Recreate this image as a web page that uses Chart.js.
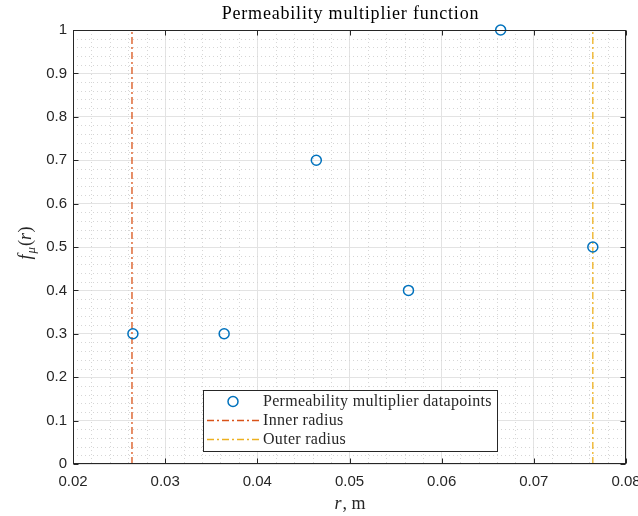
<!DOCTYPE html>
<html>
<head>
<meta charset="utf-8">
<script src="https://cdn.jsdelivr.net/npm/chart.js@4.4.1/dist/chart.umd.min.js"></script>
<style>
  html, body { margin: 0; padding: 0; background: #ffffff; }
  #wrap { width: 638px; height: 516px; overflow: hidden; }
</style>
</head>
<body>
<div id="wrap"><canvas id="permChart" width="638" height="516"></canvas></div>
<script>
// radius positions (m) and multiplier values
const rValues = [0.0265, 0.0364, 0.0464, 0.0564, 0.0664, 0.0764];
const fValues = [0.3, 0.3, 0.7, 0.4, 1.0, 0.5];
const innerRadius = 0.0264;
const outerRadius = 0.0764;

const xTicks = [0.02, 0.03, 0.04, 0.05, 0.06, 0.07, 0.08];
const xTickLabels = ['0.02', '0.03', '0.04', '0.05', '0.06', '0.07', '0.08'];
const yTicks = [0, 0.1, 0.2, 0.3, 0.4, 0.5, 0.6, 0.7, 0.8, 0.9, 1];
const yTickLabels = ['0', '0.1', '0.2', '0.3', '0.4', '0.5', '0.6', '0.7', '0.8', '0.9', '1'];

const chartTitle = 'Permeability multiplier function';
const seriesLabels = ['Permeability multiplier datapoints', 'Inner radius', 'Outer radius'];

const BLUE = '#0072BD';
const ORANGE = '#D95319';
const YELLOW = '#EDB120';
const AXIS = '#262626';
const SERIF = '"Liberation Serif", "Times New Roman", serif';
const SANS = '"Liberation Sans", Arial, sans-serif';
const DASHDOT = [7, 3, 2, 3];

// dotted minor grid: every 0.002 in r, every 0.02 in f
const minorGrid = {
  id: 'minorGrid',
  beforeDatasetsDraw(chart) {
    const { ctx, chartArea: a, scales: { x, y } } = chart;
    ctx.save();
    ctx.strokeStyle = '#d6d6d6';
    ctx.lineWidth = 1;
    ctx.setLineDash([1, 3]);
    for (let i = 0; i <= 30; i++) {
      if (i % 5 === 0) continue;
      const px = Math.round(x.getPixelForValue(0.02 + i * 0.002)) + 0.5;
      ctx.beginPath(); ctx.moveTo(px, a.top); ctx.lineTo(px, a.bottom); ctx.stroke();
    }
    for (let i = 0; i <= 50; i++) {
      if (i % 5 === 0) continue;
      const py = Math.round(y.getPixelForValue(i * 0.02)) + 0.5;
      ctx.beginPath(); ctx.moveTo(a.left, py); ctx.lineTo(a.right, py); ctx.stroke();
    }
    ctx.restore();
  }
};

// axes box with inward ticks on all four sides
const axesBox = {
  id: 'axesBox',
  afterDatasetsDraw(chart) {
    const { ctx, chartArea: a, scales: { x, y } } = chart;
    const L = Math.round(a.left) + 0.5, R = Math.round(a.right) - 0.5;
    const T = Math.round(a.top) + 0.5, B = Math.round(a.bottom) - 0.5;
    ctx.save();
    ctx.strokeStyle = AXIS;
    ctx.lineWidth = 1;
    ctx.strokeRect(L, T, R - L, B - T);
    const tl = 5;
    ctx.beginPath();
    xTicks.forEach(v => {
      const px = Math.round(x.getPixelForValue(v)) + 0.5;
      ctx.moveTo(px, B); ctx.lineTo(px, B - tl);
      ctx.moveTo(px, T); ctx.lineTo(px, T + tl);
    });
    yTicks.forEach(v => {
      const py = Math.round(y.getPixelForValue(v)) + 0.5;
      ctx.moveTo(L, py); ctx.lineTo(L + tl, py);
      ctx.moveTo(R, py); ctx.lineTo(R - tl, py);
    });
    ctx.stroke();
    ctx.restore();
  }
};

// title and axis titles (italic symbols need mixed fonts)
const titles = {
  id: 'titles',
  afterDraw(chart) {
    const { ctx, chartArea: a } = chart;
    const cx = (a.left + a.right) / 2;
    ctx.save();
    ctx.textBaseline = 'alphabetic';

    ctx.fillStyle = '#000000';
    ctx.font = '18px ' + SERIF;
    ctx.letterSpacing = '0.8px';
    ctx.textAlign = 'center';
    ctx.fillText(chartTitle, cx + 1, 19);
    ctx.textAlign = 'left';
    ctx.letterSpacing = '0px';

    // x title: r, m
    ctx.fillStyle = AXIS;
    ctx.font = 'italic 18px ' + SERIF;
    const wr = ctx.measureText('r').width;
    ctx.font = '18px ' + SERIF;
    const wRest = ctx.measureText(', m').width;
    const sx = cx - (wr + wRest) / 2;
    ctx.font = 'italic 18px ' + SERIF;
    ctx.fillText('r', sx, 509);
    ctx.font = '18px ' + SERIF;
    ctx.fillText(', m', sx + wr + 1, 509);

    // y title: f_mu(r), rotated
    ctx.translate(31, (a.top + a.bottom) / 2 - 4);
    ctx.rotate(-Math.PI / 2);
    const parts = [
      { t: 'f', f: 'italic 18px ' + SERIF, dy: 0, gap: 1 },
      { t: 'μ', f: 'italic 13px ' + SERIF, dy: 4, gap: 1 },
      { t: '(', f: '18px ' + SERIF, dy: 0, gap: 0 },
      { t: 'r', f: 'italic 18px ' + SERIF, dy: 0, gap: 0.5 },
      { t: ')', f: '18px ' + SERIF, dy: 0, gap: 0 }
    ];
    let total = 0;
    parts.forEach(p => { ctx.font = p.f; p.w = ctx.measureText(p.t).width; total += p.w + p.gap; });
    let px = -total / 2;
    parts.forEach(p => { ctx.font = p.f; ctx.fillText(p.t, px, p.dy); px += p.w + p.gap; });
    ctx.restore();
  }
};

// legend box inside the axes, lower middle
const legendBox = {
  id: 'legendBox',
  afterDraw(chart) {
    const { ctx } = chart;
    const box = { x: 203, y: 390, w: 294, h: 61 };
    const rowY = [401, 420, 439];
    ctx.save();
    ctx.fillStyle = '#ffffff';
    ctx.fillRect(box.x, box.y, box.w, box.h);
    ctx.strokeStyle = AXIS;
    ctx.lineWidth = 1;
    ctx.strokeRect(box.x + 0.5, box.y + 0.5, box.w, box.h);
    chart.data.datasets.forEach((ds, i) => {
      const yy = rowY[i] + 0.5;
      ctx.beginPath();
      ctx.strokeStyle = ds.borderColor;
      ctx.lineWidth = ds.borderWidth;
      if (i === 0) {
        ctx.arc(233, yy, ds.pointRadius, 0, Math.PI * 2);
      } else {
        ctx.setLineDash(ds.borderDash);
        ctx.moveTo(207, yy); ctx.lineTo(259, yy);
      }
      ctx.stroke();
      ctx.setLineDash([]);
      ctx.fillStyle = AXIS;
      ctx.font = '16px ' + SERIF;
      ctx.letterSpacing = '0.3px';
      ctx.textBaseline = 'middle';
      ctx.fillText(ds.label, 263, rowY[i] + 1);
    });
    ctx.restore();
  }
};

const ctx = document.getElementById('permChart').getContext('2d');
new Chart(ctx, {
  type: 'scatter',
  data: {
    datasets: [
      {
        label: seriesLabels[0],
        data: rValues.map((r, i) => ({ x: r, y: fValues[i] })),
        pointStyle: 'circle',
        pointRadius: 5,
        pointHoverRadius: 5,
        borderColor: BLUE,
        backgroundColor: 'rgba(0,0,0,0)',
        borderWidth: 1.5,
        showLine: false
      },
      {
        label: seriesLabels[1],
        data: [{ x: innerRadius, y: 0 }, { x: innerRadius, y: 1 }],
        showLine: true,
        borderColor: ORANGE,
        borderWidth: 1.3,
        borderDash: DASHDOT,
        pointRadius: 0
      },
      {
        label: seriesLabels[2],
        data: [{ x: outerRadius, y: 0 }, { x: outerRadius, y: 1 }],
        showLine: true,
        borderColor: YELLOW,
        borderWidth: 1.3,
        borderDash: DASHDOT,
        pointRadius: 0
      }
    ]
  },
  options: {
    responsive: false,
    animation: false,
    clip: false,
    layout: { padding: { left: 0, right: 12, top: 30, bottom: 0 } },
    plugins: {
      legend: { display: false },
      tooltip: { enabled: false },
      title: { display: false }
    },
    scales: {
      x: {
        type: 'linear',
        min: 0.02,
        max: 0.08,
        afterBuildTicks: s => { s.ticks = xTicks.map(v => ({ value: v })); },
        afterFit: s => { s.height = 52; s.paddingLeft = 0; s.paddingRight = 0; },
        border: { display: false },
        grid: { color: '#e3e3e3', drawTicks: false },
        ticks: {
          color: AXIS,
          font: { family: SANS, size: 15 },
          padding: 9,
          maxRotation: 0,
          callback: (v, i) => xTickLabels[i]
        }
      },
      y: {
        type: 'linear',
        min: 0,
        max: 1,
        afterBuildTicks: s => { s.ticks = yTicks.map(v => ({ value: v })); },
        afterFit: s => { s.width = 73; s.paddingTop = 0; s.paddingBottom = 0; },
        border: { display: false },
        grid: { color: '#e3e3e3', drawTicks: false },
        ticks: {
          color: AXIS,
          font: { family: SANS, size: 15 },
          padding: 6,
          callback: (v, i) => yTickLabels[i]
        }
      }
    }
  },
  plugins: [minorGrid, axesBox, titles, legendBox]
});
</script>
</body>
</html>
